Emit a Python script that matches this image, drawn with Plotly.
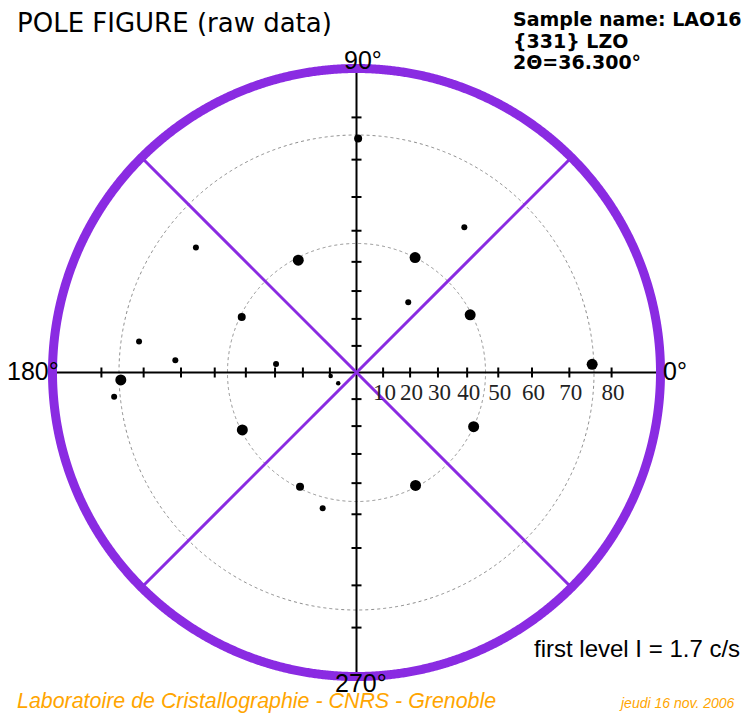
import numpy as np
import plotly.graph_objects as go

# ---------------- data ----------------
# pole positions: azimuth phi (deg, counter-clockwise from 0° at right), tilt psi (deg)
pole_phi = [89.6, 53.4, 63.0, 53.6, 26.9, 2.0, 142.1, 117.4, 154.2, 171.9, 176.1,
            174.0, 181.8, 185.7, 187.7, 210.7, 206.7, 243.7, 256.0, 297.6, 335.2]
pole_psi = [75.2, 61.5, 46.0, 32.0, 45.5, 75.6, 67.6, 45.2, 45.5, 71.7, 61.7,
            29.8, 75.6, 77.4, 9.8, 8.0, 45.6, 45.5, 49.4, 45.5, 46.0]
pole_class = ["medium", "small", "strong", "small", "strong", "strong", "small",
              "strong", "medium", "small", "small", "small", "strong", "small",
              "tiny", "tiny", "strong", "medium", "small", "strong", "strong"]

psi_ticks = [10, 20, 30, 40, 50, 60, 70, 80]
psi_tick_labels = ["10", "20", "30", "40", "50", "60", "70", "80"]
ref_circles_psi = [46, 76]
diag_phi = [45, 135]
azimuth_labels = ["0°", "90°", "180°", "270°"]

title_text = "POLE FIGURE (raw data)"
info_lines = ["Sample name: LAO16", "{331} LZO", "2Θ=36.300°"]
level_text = "first level I = 1.7 c/s"
lab_text = "Laboratoire de Cristallographie - CNRS - Grenoble"
date_text = "jeudi 16 nov. 2006"

# ---------------- styling / geometry ----------------
W, H = 749, 713
CX, CY, RPX = 356.5, 372.5, 304.0   # centre pixel and px per unit radius
PURPLE = "blueviolet"
ORANGE = "#FFA500"
size_map = {"strong": 11, "medium": 8, "small": 6, "tiny": 4.5}


def stereo(psi_deg):
    return np.tan(np.radians(np.asarray(psi_deg, dtype=float)) / 2.0)


def px2x(px):
    return (px - CX) / RPX


def py2y(py):
    return (CY - py) / RPX


fig = go.Figure()

# dotted reference circles
theta = np.radians(np.linspace(0, 360, 1441))
for p in ref_circles_psi:
    r = float(stereo(p))
    fig.add_trace(go.Scatter(x=r * np.cos(theta), y=r * np.sin(theta), mode="lines",
                             line=dict(color="#8a8a8a", width=1, dash="dot", simplify=False),
                             hoverinfo="skip"))

# cross axes (black)
fig.add_trace(go.Scatter(x=[-1, 1, None, 0, 0], y=[0, 0, None, -1, 1], mode="lines",
                         line=dict(color="black", width=2), hoverinfo="skip"))

# ticks on the four half-axes
tl = 5.0 / RPX
tx, ty = [], []
for p in psi_ticks:
    r = float(stereo(p))
    for s in (1, -1):
        tx += [s * r, s * r, None]
        ty += [-tl, tl, None]
        tx += [-tl, tl, None]
        ty += [s * r, s * r, None]
fig.add_trace(go.Scatter(x=tx, y=ty, mode="lines", line=dict(color="black", width=2),
                         hoverinfo="skip"))

# purple diagonals
dx, dy = [], []
for a in diag_phi:
    c, s = np.cos(np.radians(a)), np.sin(np.radians(a))
    dx += [-c, c, None]
    dy += [-s, s, None]
fig.add_trace(go.Scatter(x=dx, y=dy, mode="lines", line=dict(color=PURPLE, width=3),
                         hoverinfo="skip"))

# outer circle (psi = 90)
r90 = float(stereo(90))
fig.add_trace(go.Scatter(x=r90 * np.cos(theta), y=r90 * np.sin(theta), mode="lines",
                         line=dict(color=PURPLE, width=9, simplify=False), hoverinfo="skip"))

# poles
pr = stereo(pole_psi)
pa = np.radians(pole_phi)
fig.add_trace(go.Scatter(x=pr * np.cos(pa), y=pr * np.sin(pa), mode="markers", opacity=1,
                         marker=dict(color="black", opacity=1,
                                     size=[size_map[c] for c in pole_class],
                                     line=dict(width=0)),
                         customdata=np.c_[pole_phi, pole_psi],
                         hovertemplate="phi=%{customdata[0]}°<br>psi=%{customdata[1]}°<extra></extra>"))

# psi tick labels
fig.add_trace(go.Scatter(x=stereo(psi_ticks) + px2x(CX + 1.5), y=[py2y(394)] * len(psi_ticks),
                         mode="text", text=psi_tick_labels, textposition="middle center",
                         textfont=dict(family="Liberation Serif", size=23, color="#222"),
                         hoverinfo="skip"))

ann = []
AF = "Liberation Sans"
# azimuth labels
ann.append(dict(x=px2x(675), y=py2y(371), text=azimuth_labels[0], xanchor="center", yanchor="middle",
                font=dict(family=AF, size=25, color="black")))
ann.append(dict(x=px2x(363), y=py2y(60), text=azimuth_labels[1], xanchor="center", yanchor="middle",
                font=dict(family=AF, size=25, color="black")))
ann.append(dict(x=px2x(33), y=py2y(371), text=azimuth_labels[2], xanchor="center", yanchor="middle",
                font=dict(family=AF, size=25, color="black")))
ann.append(dict(x=px2x(361), y=py2y(682.5), text=azimuth_labels[3], xanchor="center", yanchor="middle",
                font=dict(family=AF, size=25, color="black")))
for a in ann:
    a.update(xref="x", yref="y", showarrow=False)


# page texts (paper coords)
def ptext(text, left=None, right=None, cy=0, font=None):
    d = dict(xref="paper", yref="paper", showarrow=False, text=text, font=font,
             y=1 - cy / H, yanchor="middle")
    if left is not None:
        d.update(x=left / W, xanchor="left")
    else:
        d.update(x=right / W, xanchor="right")
    return d


ann.append(ptext(title_text, left=15, cy=23, font=dict(family="DejaVu Sans", size=26, color="black")))
for i, line in enumerate(info_lines):
    ann.append(ptext(line, left=511, cy=19 + 21.5 * i,
                     font=dict(family="DejaVu Sans", size=19, color="black", weight="bold")))
ann.append(ptext(level_text, right=742, cy=648, font=dict(family=AF, size=24, color="black")))
ann.append(ptext(lab_text, left=15, cy=701, font=dict(family=AF, size=21.4, color=ORANGE, style="italic")))
ann.append(ptext(date_text, right=737, cy=703, font=dict(family=AF, size=14, color=ORANGE, style="italic")))

fig.update_layout(
    width=W, height=H, margin=dict(l=0, r=0, t=0, b=0),
    paper_bgcolor="white", plot_bgcolor="white", showlegend=False,
    xaxis=dict(range=[px2x(0), px2x(W)], visible=False, fixedrange=True),
    yaxis=dict(range=[py2y(H), py2y(0)], visible=False, fixedrange=True),
    annotations=ann,
)

fig.write_html("out.html", config={"displayModeBar": False},
               post_script="document.body.style.margin='0';")
